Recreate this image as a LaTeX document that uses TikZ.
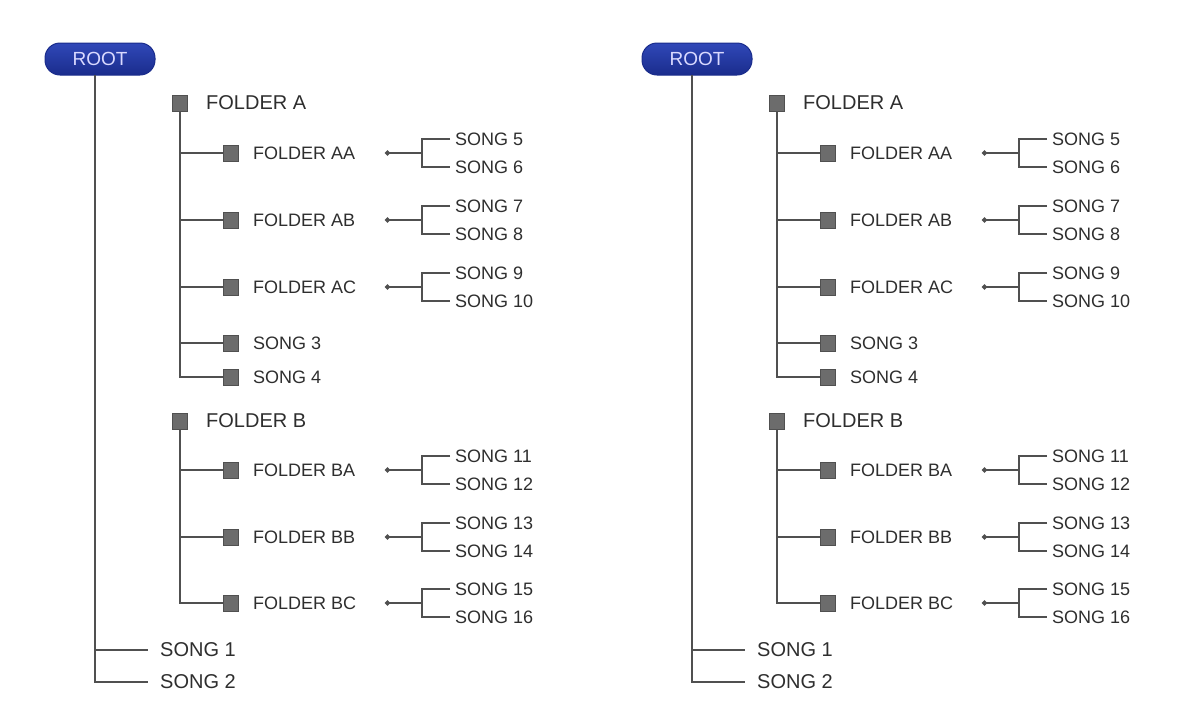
\documentclass[tikz,border=0pt]{standalone}
\usepackage{fontspec}
\setmainfont{Liberation Sans}
\usetikzlibrary{arrows.meta}
\definecolor{txt}{HTML}{2E2E2E}
\definecolor{ln}{HTML}{505050}
\definecolor{sqf}{HTML}{6C6C6C}
\definecolor{pillf}{HTML}{3048B8}
\definecolor{pilld}{HTML}{1A2C8C}
\tikzset{
  conn/.style={draw=ln, line width=1.4pt},
  dotend/.style={conn, -{Circle[length=5pt]}},
  pill/.style={draw=pilld, line width=1pt, top color=pillf, bottom color=pilld, rounded corners=15pt, minimum width=110pt, minimum height=32pt, text=white!85!blue, font=\fontsize{19}{21}\selectfont, inner sep=0pt},
  topsq/.style={draw=ln, fill=sqf, minimum width=15pt, minimum height=16pt, inner sep=0pt},
  subsq/.style={draw=ln, fill=sqf, minimum width=15pt, minimum height=16pt, inner sep=0pt},
  bigtxt/.style={anchor=west, inner sep=0pt, text=txt, font=\fontsize{20}{22}\selectfont},
  smalltxt/.style={anchor=west, inner sep=0pt, text=txt, font=\fontsize{18}{20}\selectfont},
  songtxt/.style={anchor=west, inner xsep=5pt, inner ysep=0pt, text=txt, font=\fontsize{18}{20}\selectfont},
  rootsong/.style={anchor=west, inner xsep=12pt, inner ysep=0pt, text=txt, font=\fontsize{20}{22}\selectfont},
}
% one sub-folder with its bracket of two songs
% #1 name, #2 y, #3 label, #4 song a, #5 song b
\newcommand{\subfolder}[5]{%
  \node[subsq] (#1) at (828,#2) {};
  \node[smalltxt] (#1t) at (850,#2) {#3};
  \node[songtxt] (#1s1) at (1047,#2-14) {#4};
  \node[songtxt] (#1s2) at (1047,#2+14) {#5};
  \coordinate (#1b) at (1019,#2);
  \coordinate (#1d) at (982,#2);
  \draw[conn] (#1s1.west) -| (#1b) |- (#1s2.west);
  \draw[dotend] (#1b) -- (#1d);
}
\newcommand{\musictree}{%
  \node[pill] (root) at (697,59) {ROOT};
  \coordinate (rv) at (692,75);
  \node[rootsong] (s1) at (745,650) {SONG 1};
  \node[rootsong] (s2) at (745,682) {SONG 2};
  \draw[conn] (rv) |- (s2.west);
  \draw[conn] (rv |- s1.west) -- (s1.west);
  % folder A
  \node[topsq] (fa) at (777,103) {};
  \node[bigtxt] (fat) at (803,103) {FOLDER A};
  \subfolder{aa}{153}{FOLDER AA}{SONG 5}{SONG 6}
  \subfolder{ab}{220}{FOLDER AB}{SONG 7}{SONG 8}
  \subfolder{ac}{287}{FOLDER AC}{SONG 9}{SONG 10}
  \node[subsq] (s3) at (828,343) {};
  \node[smalltxt] (s3t) at (850,343) {SONG 3};
  \node[subsq] (s4) at (828,377) {};
  \node[smalltxt] (s4t) at (850,377) {SONG 4};
  \draw[conn] (fa.south) |- (s4.west);
  \draw[conn] (fa.south |- aa.west) -- (aa.west);
  \draw[conn] (fa.south |- ab.west) -- (ab.west);
  \draw[conn] (fa.south |- ac.west) -- (ac.west);
  \draw[conn] (fa.south |- s3.west) -- (s3.west);
  % folder B
  \node[topsq] (fb) at (777,421) {};
  \node[bigtxt] (fbt) at (803,421) {FOLDER B};
  \subfolder{ba}{470}{FOLDER BA}{SONG 11}{SONG 12}
  \subfolder{bb}{537}{FOLDER BB}{SONG 13}{SONG 14}
  \subfolder{bc}{603}{FOLDER BC}{SONG 15}{SONG 16}
  \draw[conn] (fb.south) |- (bc.west);
  \draw[conn] (fb.south |- ba.west) -- (ba.west);
  \draw[conn] (fb.south |- bb.west) -- (bb.west);
}
\begin{document}
\begin{tikzpicture}[x=1pt,y=-1pt]
  \useasboundingbox (0,0) rectangle (1202,705);
  \begin{scope}[xshift=-597pt, name prefix=L-]
    \musictree
  \end{scope}
  \begin{scope}[name prefix=R-]
    \musictree
  \end{scope}
\end{tikzpicture}
\end{document}
